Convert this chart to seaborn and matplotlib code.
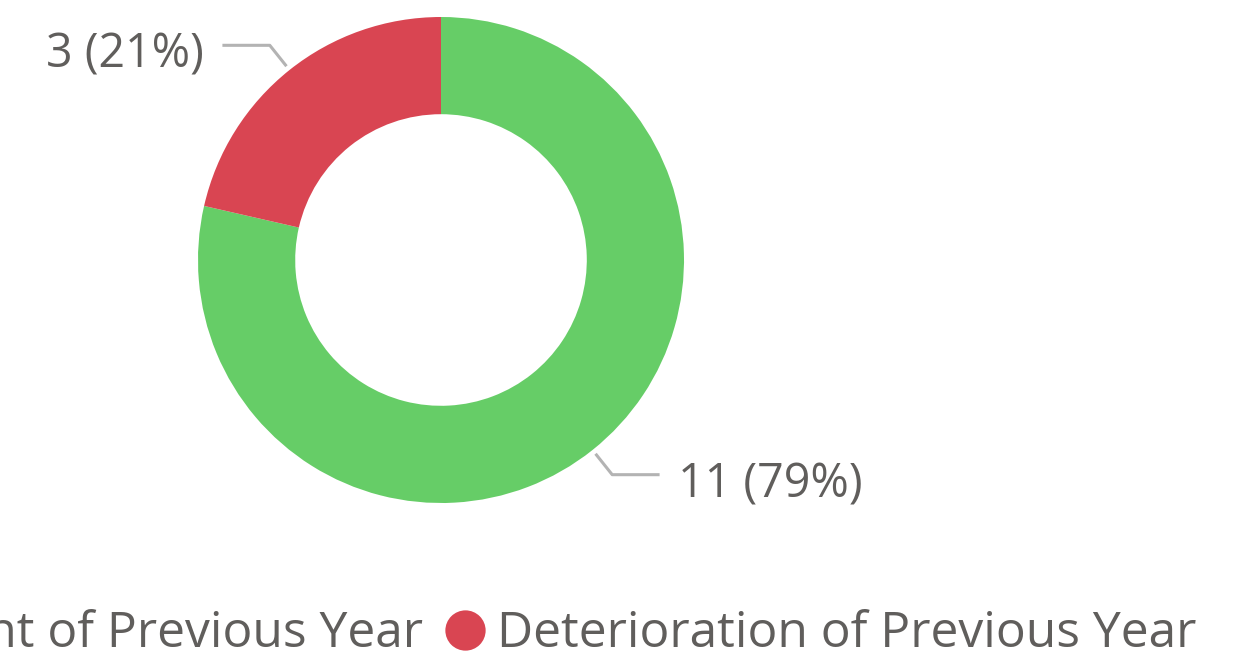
import matplotlib
matplotlib.use("Agg")
import matplotlib.pyplot as plt
import seaborn as sns
import numpy as np
from matplotlib.lines import Line2D

sns.set_theme(style="white")
plt.rcParams["font.family"] = ["Open Sans", "DejaVu Sans"]

# Data
categories = ["Improvement of Previous Year", "Deterioration of Previous Year"]
counts = [11, 3]
colors = ["#66CD67", "#D94552"]

TEXT = "#605E5C"
LEADER = "#B3B3B3"

W, H = 1245, 664
fig = plt.figure(figsize=(W / 100, H / 100), dpi=100)
fig.patch.set_facecolor("white")

# donut centre and outer radius in pixels
cx, cy, R = 441, 260, 243
ax = fig.add_axes([(cx - R) / W, (H - cy - R) / H, 2 * R / W, 2 * R / H])

wedges, _ = ax.pie(
    counts,
    colors=colors,
    startangle=90,
    counterclock=False,
    radius=1.0,
    wedgeprops=dict(width=0.40, edgecolor="none", linewidth=0),
)
ax.set_xlim(-1, 1)
ax.set_ylim(-1, 1)
ax.set_aspect("equal")
ax.axis("off")

total = sum(counts)
for w, n in zip(wedges, counts):
    mid = np.deg2rad((w.theta1 + w.theta2) / 2)
    ux, uy = np.cos(mid), np.sin(mid)
    r0, r1 = 1.02, 1.13
    x0, y0 = r0 * ux, r0 * uy
    x1, y1 = r1 * ux, r1 * uy
    side = 1 if ux >= 0 else -1
    x2 = x1 + side * 0.195
    ax.plot([x0, x1, x2], [y0, y1, y1], color=LEADER, lw=2.2,
            solid_capstyle="butt", clip_on=False)
    pct = round(100 * n / total)
    ax.text(x2 + side * 0.075, y1 - 0.093, f"{n} ({pct}%)",
            ha="left" if side > 0 else "right", va="baseline",
            fontsize=33.5, color=TEXT, clip_on=False)

# legend below the donut
handles = [Line2D([0], [0], marker="o", linestyle="none", markersize=29,
                  markerfacecolor=c, markeredgecolor="none") for c in colors]
fig.legend(handles, categories, loc="center",
           bbox_to_anchor=((cx - 12) / W, (H - 634) / H),
           ncol=2, frameon=False, fontsize=35.8, labelcolor=TEXT,
           handletextpad=0.15, columnspacing=0.35, handlelength=1.0,
           borderaxespad=0)

fig.savefig("out.png", dpi=100, facecolor="white")
